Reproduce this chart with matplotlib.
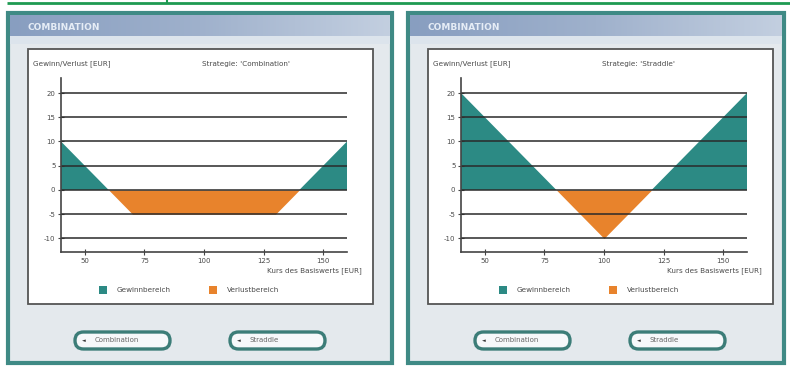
import numpy as np
import matplotlib.pyplot as plt
from matplotlib.patches import Rectangle, FancyBboxPatch

plt.rcParams["axes.unicode_minus"] = False

# Auszahlungsprofile (Kurs des Basiswerts -> Gewinn/Verlust in EUR)
kurs_combination = [40, 70, 130, 160]
gv_combination = [10, -5, -5, 10]

kurs_straddle = [40, 100, 160]
gv_straddle = [20, -10, 20]

x_ticks = [50, 75, 100, 125, 150]
y_ticks = [-10, -5, 0, 5, 10, 15, 20]

strategien = ["Combination", "Straddle"]
buttons = ["Combination", "Straddle"]

W, H = 790, 368
TEAL = "#2c8a84"
ORANGE = "#e8832c"
TXT = "#4a4a4a"

fig = plt.figure(figsize=(W / 100, H / 100), dpi=100)
fig.patch.set_facecolor("white")

# Hintergrund-Achse in Pixelkoordinaten
bg = fig.add_axes([0, 0, 1, 1])
bg.set_xlim(0, W)
bg.set_ylim(H, 0)
bg.axis("off")

# gruene Linie oben
bg.plot([7, W], [3, 3], color="#1e9a52", lw=2, solid_capstyle="butt")
bg.plot([167, 167], [0, 3], color="#1e9a52", lw=1.5)

grad = np.linspace(0, 1, 256).reshape(1, -1)
bar_cmap = plt.matplotlib.colors.LinearSegmentedColormap.from_list(
    "bar", ["#889ec0", "#9fb1cc", "#c3cfe0"])


def px_box(x0, y0, x1, y1):
    return [x0 / W, 1 - y1 / H, (x1 - x0) / W, (y1 - y0) / H]


def panel(off, breite, kurs, werte, strategie):
    # Rahmen und Flaechen
    bg.add_patch(Rectangle((off + 8, 13), breite, 350, facecolor="#e4e9ed",
                           edgecolor="#3f8a85", lw=3, zorder=1))
    bg.imshow(grad, extent=(off + 10, off + 6 + breite, 36, 15),
              aspect="auto", cmap=bar_cmap, zorder=2)
    bg.add_patch(Rectangle((off + 10, 36), breite - 4, 8, facecolor="#dce4ec",
                           edgecolor="none", zorder=2))
    bg.text(off + 27, 27, "COMBINATION", color="#e6edf6", fontsize=6.5,
            fontweight="bold", va="center", ha="left", zorder=3)
    bg.add_patch(Rectangle((off + 28, 49), 345, 255, facecolor="white",
                           edgecolor="#555555", lw=1.3, zorder=2))

    bg.text(off + 33, 64, "Gewinn/Verlust [EUR]", color=TXT, fontsize=5.2,
            va="center", ha="left", zorder=3)
    bg.text(off + 202, 64, "Strategie: '%s'" % strategie, color=TXT,
            fontsize=5.2, va="center", ha="left", zorder=3)
    bg.text(off + 362, 271, "Kurs des Basiswerts [EUR]", color=TXT,
            fontsize=5.2, va="center", ha="right", zorder=3)

    # Legende
    bg.add_patch(Rectangle((off + 99, 286), 8, 8, facecolor=TEAL,
                           edgecolor="none", zorder=3))
    bg.text(off + 117, 290, "Gewinnbereich", color=TXT, fontsize=5.2,
            va="center", ha="left", zorder=3)
    bg.add_patch(Rectangle((off + 209, 286), 8, 8, facecolor=ORANGE,
                           edgecolor="none", zorder=3))
    bg.text(off + 227, 290, "Verlustbereich", color=TXT, fontsize=5.2,
            va="center", ha="left", zorder=3)

    # Buttons
    for bx, label in zip([74, 229], buttons):
        bg.add_patch(FancyBboxPatch((off + bx + 1, 332), 95, 17,
                                    boxstyle="round,pad=0,rounding_size=8.5",
                                    facecolor="#f6f8fa", edgecolor="#3c7d78",
                                    lw=2.4, zorder=3))
        bg.text(off + bx + 10, 340.5, "\u25c4", color="#333333", fontsize=3.5,
                va="center", ha="center", zorder=4)
        bg.text(off + bx + 21, 340.5, label, color="#666666", fontsize=5,
                va="center", ha="left", zorder=4)

    # Diagramm
    ax = fig.add_axes(px_box(off + 61, 78, off + 347, 252))
    ax.set_xlim(40, 160)
    ax.set_ylim(-12.8, 23.1)
    ax.set_facecolor("none")
    k = np.array(kurs, dtype=float)
    v = np.array(werte, dtype=float)
    ax.fill_between(k, v, 0, where=v >= 0, interpolate=True, color=TEAL,
                    lw=0, zorder=1)
    ax.fill_between(k, v, 0, where=v <= 0, interpolate=True, color=ORANGE,
                    lw=0, zorder=1)
    for yt in y_ticks:
        ax.axhline(yt, color="#2a2a2a", lw=1.1, zorder=2)
    for s in ["top", "right"]:
        ax.spines[s].set_visible(False)
    for s in ["left", "bottom"]:
        ax.spines[s].set_color("#444444")
        ax.spines[s].set_linewidth(1.2)
    ax.set_xticks(x_ticks)
    ax.set_yticks(y_ticks)
    ax.tick_params(direction="inout", length=4, width=0.8, colors="#444444",
                   labelsize=5, labelcolor=TXT, pad=2)
    return ax


panel(0, 384, kurs_combination, gv_combination, strategien[0])
panel(400, 376, kurs_straddle, gv_straddle, strategien[1])

fig.savefig("out.png", dpi=100)
